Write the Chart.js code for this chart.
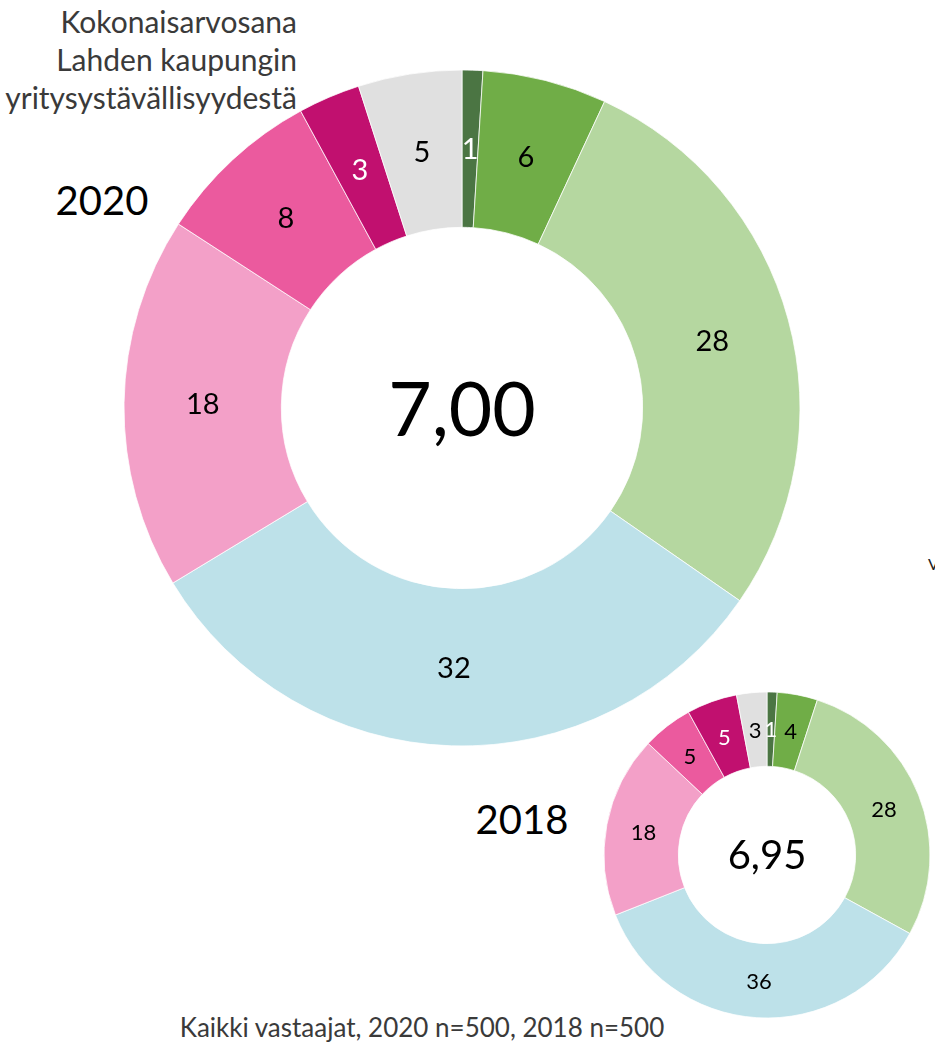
<!DOCTYPE html>
<html>
<head>
<meta charset="utf-8">
<script src="https://cdn.jsdelivr.net/npm/chart.js@4/dist/chart.umd.min.js"></script>
<style>
  html, body { margin: 0; padding: 0; background: #ffffff; }
  body { width: 935px; height: 1052px; position: relative; overflow: hidden; font-family: Lato, "Open Sans", sans-serif; }
  .txt { position: absolute; white-space: nowrap; }
  canvas { position: absolute; }
</style>
</head>
<body>
<div class="txt" id="title" style="right:638px; top:2px; font-size:30px; line-height:38px; text-align:right; color:#3a3a3a;">Kokonaisarvosana<br>Lahden kaupungin<br>yritysystävällisyydestä</div>
<div class="txt" id="y2020" style="left:102px; top:180px; font-size:40px; line-height:40px; color:#000; transform:translateX(-50%);">2020</div>
<div class="txt" id="y2018" style="left:522px; top:799px; font-size:40px; line-height:40px; color:#000; transform:translateX(-50%);">2018</div>
<div class="txt" id="footer" style="left:422px; top:1014px; font-size:26px; line-height:26px; color:#3a3a3a; transform:translateX(-50%);">Kaikki vastaajat, 2020 n=500, 2018 n=500</div>
<div class="txt" style="left:928px; top:556px; font-size:16px; line-height:16px; color:#222;">V</div>

<canvas id="c2020" width="678" height="678" style="left:123px; top:69px;"></canvas>
<canvas id="c2018" width="328" height="328" style="left:603px; top:691px;"></canvas>

<script>
// ---- data ----
const categories = ['10', '9', '8', '7', '6', '5', '4–0', 'EOS'];
const values2020 = [1, 6, 28, 32, 18, 8, 3, 5];
const values2018 = [1, 4, 28, 36, 18, 5, 5, 3];
const average2020 = '7,00';
const average2018 = '6,95';

// ---- styles ----
const sliceColors = ['#4b7543', '#70ad47', '#b5d7a0', '#bde1e9', '#f3a0c8', '#eb5a9e', '#c1106f', '#e0e0e0'];
const labelColors = ['#ffffff', '#000000', '#000000', '#000000', '#000000', '#000000', '#ffffff', '#000000'];

const sliceLabels = {
  id: 'sliceLabels',
  afterDatasetsDraw(chart, args, opts) {
    const ctx = chart.ctx;
    const meta = chart.getDatasetMeta(0);
    const data = chart.data.datasets[0].data;
    ctx.save();
    ctx.textAlign = 'center';
    ctx.textBaseline = 'middle';
    ctx.font = opts.size + 'px Lato';
    meta.data.forEach((arc, i) => {
      const p = arc.tooltipPosition();
      ctx.fillStyle = labelColors[i];
      ctx.fillText(String(data[i]), p.x, p.y + 1);
    });
    const c = meta.data[0];
    ctx.font = opts.centerSize + 'px Lato';
    ctx.fillStyle = '#000';
    ctx.textBaseline = 'alphabetic';
    ctx.fillText(opts.centerText, c.x, c.y + opts.centerBaseline);
    ctx.restore();
  }
};

function makeDonut(id, values, radius, cutout, labelSize, centerText, centerSize, centerBaseline) {
  return new Chart(document.getElementById(id), {
    type: 'doughnut',
    data: {
      labels: categories,
      datasets: [{
        data: values,
        backgroundColor: sliceColors,
        borderColor: '#ffffff',
        borderWidth: 0.75
      }]
    },
    options: {
      responsive: false,
      devicePixelRatio: 1,
      animation: false,
      events: [],
      radius: radius,
      cutout: cutout,
      layout: { padding: 0 },
      plugins: {
        legend: { display: false },
        tooltip: { enabled: false },
        sliceLabels: { size: labelSize, centerText: centerText, centerSize: centerSize, centerBaseline: centerBaseline }
      }
    },
    plugins: [sliceLabels]
  });
}

makeDonut('c2020', values2020, 338, 181, 29, average2020, 75, 28);
makeDonut('c2018', values2018, 163, 89, 22, average2018, 40, 14);
</script>
</body>
</html>
